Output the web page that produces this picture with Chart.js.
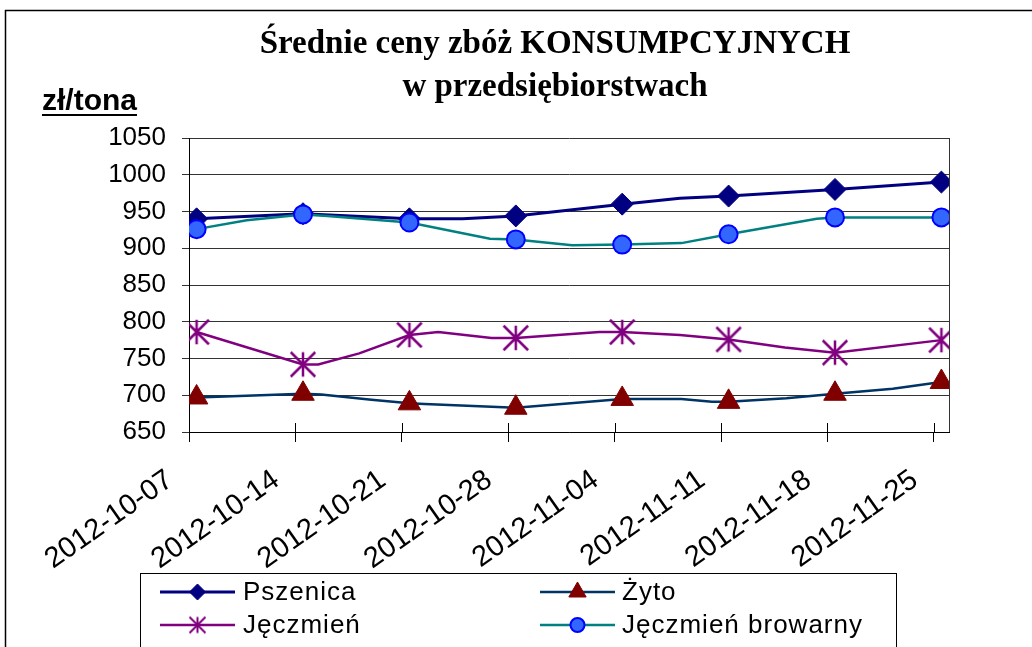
<!DOCTYPE html>
<html>
<head>
<meta charset="utf-8">
<script src="https://cdn.jsdelivr.net/npm/chart.js@4/dist/chart.umd.min.js"></script>
<style>
html,body{margin:0;padding:0;background:#fff;}
#wrap{position:relative;width:1032px;height:647px;overflow:hidden;}
canvas{display:block;}
</style>
</head>
<body>
<div id="wrap"><canvas id="c" width="1032" height="647"></canvas></div>
<script>
// ---- data (x = days since 2012-10-07) ----
const titleLines = ['Średnie ceny zbóż KONSUMPCYJNYCH', 'w przedsiębiorstwach'];
const unitLabel = 'zł/tona';
const weekLabels = ['2012-10-07','2012-10-14','2012-10-21','2012-10-28','2012-11-04','2012-11-11','2012-11-18','2012-11-25'];
const weekTickDays = [0, 7, 14, 21, 28, 35, 42, 49];
const markerDays = [0.5, 7.5, 14.5, 21.5, 28.5, 35.5, 42.5, 49.5];
const yTicks = [650, 700, 750, 800, 850, 900, 950, 1000, 1050];

const seriesNames = ['Pszenica', 'Żyto', 'Jęczmień', 'Jęczmień browarny'];

const pszenicaDays   = [0.5, 7.5, 14.5, 18, 21.5, 28.5, 32.3, 35.5, 42.5, 49.5];
const pszenicaValues = [940, 947, 940, 940, 944, 960, 968, 971, 980, 990];

const zytoDays   = [0.5, 7.5, 8.7, 12, 14.5, 15.5, 21.5, 28.5, 32.4, 34.4, 35.5, 39.3, 42.5, 46.3, 49.5];
const zytoValues = [697, 702, 701, 694, 689, 688, 683, 695, 695, 691, 691, 696, 702, 709, 718];

const jeczmienDays   = [0.5, 7.5, 8.5, 11.2, 14.5, 16.4, 19.9, 21.5, 27.0, 28.5, 32.3, 35.5, 39.2, 42.5, 49.5];
const jeczmienValues = [786, 742, 742, 757, 782, 786, 778, 778, 786, 786, 782, 776, 765, 758, 775];

const browarnyDays   = [0.5, 3.8, 7.5, 9.1, 14.5, 19.8, 21.5, 25.2, 28.5, 32.4, 35.5, 41.3, 42.5, 49.5];
const browarnyValues = [926, 938, 946, 944, 935, 913, 912, 904, 905, 907, 919, 940, 942, 942];

// ---- helpers ----
function pts(days, vals){ return days.map((d,i)=>({x:d, y:vals[i]})); }
function makeStar(size, color, lw){
  const c = document.createElement('canvas');
  c.width = size; c.height = size;
  const g = c.getContext('2d');
  const m = lw/2 + 0.5, a = m, b = size - m;
  g.strokeStyle = color; g.lineWidth = lw; g.lineCap = 'butt';
  g.beginPath();
  g.moveTo(a,a); g.lineTo(b,b);
  g.moveTo(a,b); g.lineTo(b,a);
  g.moveTo(size/2,a); g.lineTo(size/2,b);
  g.stroke();
  return c;
}
const starBig = makeStar(28, '#800080', 2.5);
const starSmall = makeStar(19, '#800080', 2);

const markerR = (r) => (ctx) => (ctx.raw && markerDays.includes(ctx.raw.x)) ? r : 0;

const datasets = [
  {label: seriesNames[0], data: pts(pszenicaDays, pszenicaValues), borderColor:'#000080', borderWidth:3,
   pointStyle:'rectRot', pointRadius: markerR(11), pointHoverRadius: markerR(11), pointBackgroundColor:'#000080', pointBorderColor:'#000080', pointBorderWidth:1, order:1,
   legendR: 8},
  {label: seriesNames[1], data: pts(zytoDays, zytoValues), borderColor:'#003366', borderWidth:2.5,
   pointStyle:'triangle', pointRadius: markerR(13), pointHoverRadius: markerR(13), pointBackgroundColor:'#800000', pointBorderColor:'#800000', pointBorderWidth:1, order:2,
   legendR: 10},
  {label: seriesNames[2], data: pts(jeczmienDays, jeczmienValues), borderColor:'#800080', borderWidth:2.5,
   pointStyle: starBig, pointRadius: markerR(14), pointHoverRadius: markerR(14), pointBackgroundColor:'#800080', pointBorderColor:'#800080', pointBorderWidth:1, order:3,
   legendStar: starSmall},
  {label: seriesNames[3], data: pts(browarnyDays, browarnyValues), borderColor:'#008080', borderWidth:2.5,
   pointStyle:'circle', pointRadius: markerR(9), pointHoverRadius: markerR(9), pointBackgroundColor:'#3366FF', pointBorderColor:'#0000FF', pointBorderWidth:2, order:0,
   legendR: 7}
];

// ---- custom drawing: outer frame, unit label, inner tick parts, plot border, legend ----
const decor = {
  id: 'decor',
  beforeDatasetsDraw(chart){
    const {ctx, chartArea:a, scales:{x}} = chart;
    ctx.save();
    ctx.strokeStyle = '#000'; ctx.lineWidth = 1;
    ctx.beginPath();
    x.ticks.forEach(t => {
      const px = Math.round(x.getPixelForValue(t.value)) + 0.5;
      ctx.moveTo(px, a.bottom - 9); ctx.lineTo(px, a.bottom);
    });
    ctx.stroke();
    ctx.strokeStyle = '#333';
    ctx.beginPath();
    ctx.moveTo(Math.round(a.right)+0.5, a.top); ctx.lineTo(Math.round(a.right)+0.5, a.bottom);
    ctx.stroke();
    ctx.restore();
  },
  afterDraw(chart){
    const ctx = chart.ctx;
    ctx.save();
    // outer frame
    ctx.strokeStyle = '#000'; ctx.lineWidth = 1.5;
    ctx.beginPath();
    ctx.moveTo(5.5, 660); ctx.lineTo(5.5, 10.5); ctx.lineTo(1040, 10.5);
    ctx.stroke();
    // unit label
    ctx.font = 'bold 30px "Liberation Sans", Arial, sans-serif';
    ctx.fillStyle = '#000'; ctx.textBaseline = 'alphabetic'; ctx.textAlign = 'left';
    ctx.fillText(unitLabel, 42, 110);
    const w = ctx.measureText(unitLabel).width;
    ctx.lineWidth = 2;
    ctx.beginPath(); ctx.moveTo(42, 115); ctx.lineTo(42 + w, 115); ctx.stroke();
    // legend box
    ctx.fillStyle = '#fff';
    ctx.fillRect(140.5, 573.5, 756, 100);
    ctx.strokeStyle = '#000'; ctx.lineWidth = 1;
    ctx.strokeRect(140.5, 573.5, 756, 100);
    const cols = [{l:160, r:235, t:243}, {l:540, r:615, t:622}];
    const rows = [592, 625];
    const layout = [[0,0,0],[1,1,0],[2,0,1],[3,1,1]];
    ctx.font = '26px "Liberation Sans", Arial, sans-serif';
    try { ctx.letterSpacing = '1px'; } catch(e) {}
    layout.forEach(([di, ci, ri]) => {
      const ds = chart.data.datasets[di];
      const col = cols[ci], y = rows[ri];
      ctx.strokeStyle = ds.borderColor; ctx.lineWidth = ds.borderWidth;
      ctx.beginPath(); ctx.moveTo(col.l, y); ctx.lineTo(col.r, y); ctx.stroke();
      const cx = (col.l + col.r) / 2;
      ctx.fillStyle = ds.pointBackgroundColor; ctx.strokeStyle = ds.pointBorderColor;
      ctx.lineWidth = ds.pointBorderWidth;
      if (ds.legendStar) {
        ctx.drawImage(ds.legendStar, cx - ds.legendStar.width/2, y - ds.legendStar.height/2);
      } else {
        Chart.helpers.drawPoint(ctx, {pointStyle: ds.pointStyle, radius: ds.legendR, borderWidth: ds.pointBorderWidth, rotation: 0}, cx, y);
      }
      ctx.fillStyle = '#000'; ctx.textBaseline = 'middle'; ctx.textAlign = 'left';
      ctx.fillText(ds.label, col.t, y + 1);
    });
    ctx.restore();
  }
};

new Chart(document.getElementById('c'), {
  type: 'line',
  data: { datasets },
  options: {
    responsive: false,
    animation: false,
    events: [],
    elements: { line: { tension: 0, fill: false } },
    layout: { padding: { top: 10, left: 78, right: 0, bottom: 74 } },
    plugins: {
      legend: { display: false },
      tooltip: { enabled: false },
      title: {
        display: true, text: titleLines, color: '#000',
        font: { family: '"Liberation Serif", "Times New Roman", serif', size: 33, weight: 'bold', lineHeight: '43px' },
        padding: { top: 13, bottom: 29 }
      }
    },
    scales: {
      x: {
        type: 'linear', min: 0, max: 50,
        afterBuildTicks: (s) => { s.ticks = weekTickDays.map(v => ({ value: v })); },
        afterFit: (s) => { s.height = 141; },
        ticks: {
          autoSkip: false, minRotation: 35, maxRotation: 35, padding: 21, labelOffset: -19,
          color: '#000', font: { family: '"Liberation Sans", Arial, sans-serif', size: 29 },
          callback: (v) => { const i = weekTickDays.indexOf(v); return i >= 0 ? weekLabels[i] : ''; }
        },
        grid: { drawOnChartArea: false, drawTicks: true, tickLength: 10, color: '#000' },
        border: { display: true, color: '#000', width: 1 }
      },
      y: {
        min: 650, max: 1050,
        afterBuildTicks: (s) => { s.ticks = yTicks.map(v => ({ value: v })); },
        afterFit: (s) => { s.width = 111; },
        ticks: { color: '#000', padding: 16, font: { family: '"Liberation Sans", Arial, sans-serif', size: 26 },
          callback: (v) => String(v) },
        grid: { color: '#333', lineWidth: 1, tickLength: 7, drawTicks: true },
        border: { display: true, color: '#000', width: 1 }
      },
      yRight: {
        position: 'right', display: true,
        afterFit: (s) => { s.width = 83; },
        ticks: { display: false },
        grid: { display: false, drawTicks: false },
        border: { display: false }
      }
    }
  },
  plugins: [decor]
});
</script>
</body>
</html>
